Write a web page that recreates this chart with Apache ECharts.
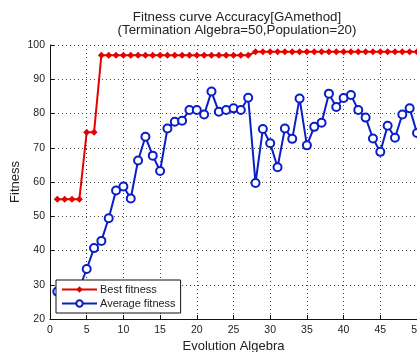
<!DOCTYPE html>
<html>
<head>
<meta charset="utf-8">
<script src="https://cdn.jsdelivr.net/npm/echarts@6/dist/echarts.min.js"></script>
<style>html,body{margin:0;padding:0;background:#fff;}#c{width:417px;height:352px;}</style>
</head>
<body>
<div id="c"></div>
<script>
var generations = [1,2,3,4,5,6,7,8,9,10,11,12,13,14,15,16,17,18,19,20,21,22,23,24,25,26,27,28,29,30,31,32,33,34,35,36,37,38,39,40,41,42,43,44,45,46,47,48,49,50];
var bestFitness = [55,55,55,55,74.5,74.5,97,97,97,97,97,97,97,97,97,97,97,97,97,97,97,97,97,97,97,97,97,98,98,98,98,98,98,98,98,98,98,98,98,98,98,98,98,98,98,98,98,98,98,98];
var avgFitness = [28,27.5,28.5,28.9,34.6,40.7,42.8,49.4,57.5,58.7,55.2,66.3,73.2,67.7,63.2,75.6,77.6,77.9,81.0,81.0,79.7,86.4,80.5,81.0,81.5,81.0,84.6,59.7,75.5,71.3,64.3,75.6,72.6,84.4,70.7,76.1,77.3,85.8,81.9,84.5,85.4,81.0,78.8,72.7,68.8,76.4,72.9,79.7,81.5,74.3];
var xTicks = [0,5,10,15,20,25,30,35,40,45,50];
var yTicks = [20,30,40,50,60,70,80,90,100];

var chart = echarts.init(document.getElementById('c'));
var font = 'Liberation Sans, Arial, sans-serif';
function pairs(ys){ return generations.map(function(g,i){ return [g, ys[i]]; }); }
chart.setOption({
  animation: false,
  backgroundColor: '#fff',
  title: {
    text: 'Fitness curve Accuracy[GAmethod]\n(Termination Algebra=50,Population=20)',
    left: 232, top: 6, textAlign: 'center',
    textStyle: {fontFamily: font, fontSize: 13.3, fontWeight: 'normal', color: '#222', lineHeight: 13}
  },
  grid: {left: 50, right: 0, top: 45, bottom: 33, outerBoundsMode: 'none', containLabel: false},
  legend: {
    orient: 'vertical', left: 56, top: 280,
    backgroundColor: '#fff', borderColor: '#111', borderWidth: 1,
    padding: [4, 5, 4, 5], itemGap: 3, itemWidth: 35, itemHeight: 8,
    textStyle: {fontFamily: font, fontSize: 11, color: '#222', padding: [0,0,0,-2]},
    data: ['Best fitness', 'Average fitness']
  },
  xAxis: {
    type: 'value', min: xTicks[0], max: xTicks[xTicks.length-1], interval: 5,
    name: 'Evolution Algebra', nameLocation: 'middle', nameGap: 21, nameMoveOverlap: false,
    nameTextStyle: {fontFamily: font, fontSize: 13, color: '#222'},
    axisLine: {lineStyle: {color: '#111', width: 1}},
    axisTick: {inside: true, length: 4, lineStyle: {color: '#111'}},
    axisLabel: {fontFamily: font, fontSize: 10.5, color: '#222', margin: 6},
    splitLine: {show: true, lineStyle: {color: '#444', type: [1, 3], width: 1}}
  },
  yAxis: {
    type: 'value', min: yTicks[0], max: yTicks[yTicks.length-1], interval: 10,
    name: 'Fitness', nameLocation: 'middle', nameGap: 28, nameRotate: 90, nameMoveOverlap: false,
    nameTextStyle: {fontFamily: font, fontSize: 13, color: '#222'},
    axisLine: {show: true, lineStyle: {color: '#111', width: 1}},
    axisTick: {show: true, inside: true, length: 4, lineStyle: {color: '#111'}},
    axisLabel: {fontFamily: font, fontSize: 10.5, color: '#222', margin: 5},
    splitLine: {show: true, lineStyle: {color: '#444', type: [1, 3], width: 1}}
  },
  series: [
    {
      name: 'Best fitness', type: 'line', data: pairs(bestFitness),
      symbol: 'diamond', symbolSize: 7,
      lineStyle: {color: '#e60000', width: 2},
      itemStyle: {color: '#e60000'}, z: 3
    },
    {
      name: 'Average fitness', type: 'line', data: pairs(avgFitness),
      symbol: 'emptyCircle', symbolSize: 8,
      lineStyle: {color: '#0a1ec8', width: 2},
      itemStyle: {color: '#0a1ec8', borderWidth: 1.5}, z: 2
    }
  ]
});
</script>
</body>
</html>
